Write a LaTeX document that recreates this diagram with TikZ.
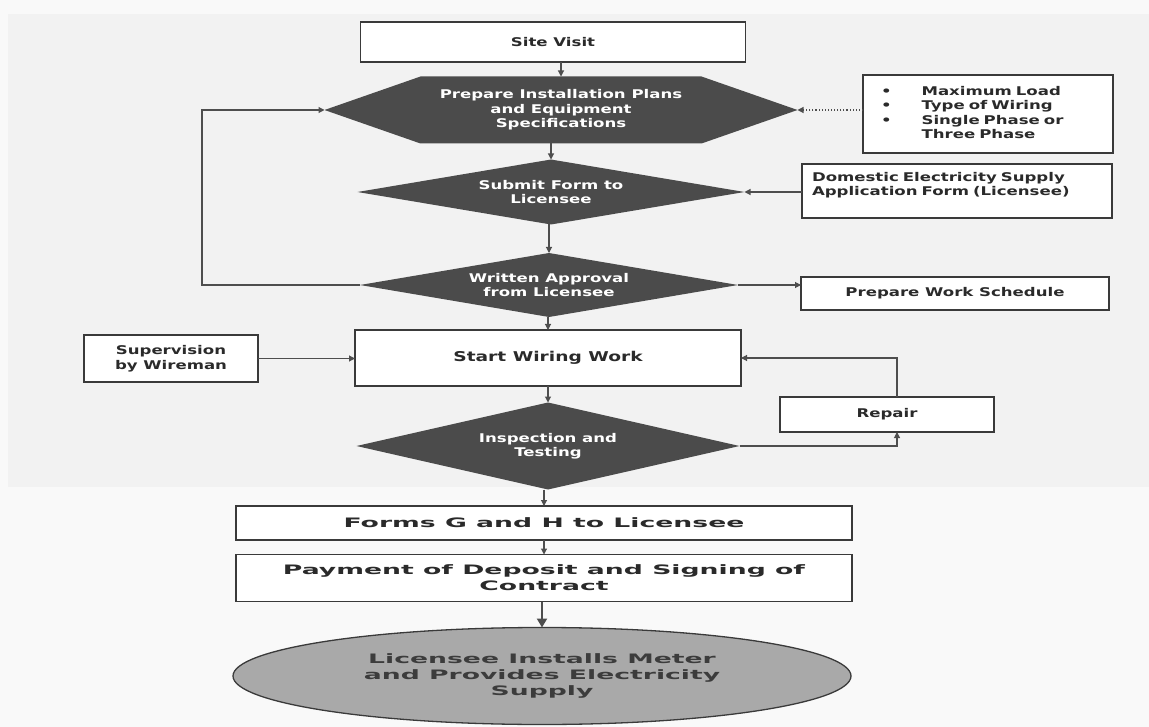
\documentclass[tikz,border=0pt]{standalone}
\usepackage{fontspec}
\setmainfont{DejaVu Sans}
\newfontfamily\mf{DejaVu Sans}[FakeStretch=1.38]
\newfontfamily\wf{DejaVu Sans}[FakeStretch=2.05]
\usetikzlibrary{arrows.meta,backgrounds,shapes.geometric}
\definecolor{darkfill}{HTML}{4B4B4B}
\definecolor{linec}{HTML}{3A3A3A}
\definecolor{arrc}{HTML}{4E4E4E}
\definecolor{txt}{HTML}{2A2A2A}
\definecolor{elltxt}{HTML}{3C3C3C}
\definecolor{ellfill}{HTML}{A9A9A9}
\begin{document}
\begin{tikzpicture}[x=1pt,y=-1pt,
  box/.style={draw=linec, line width=1.3pt, fill=white, inner sep=0pt, outer sep=0pt,
    font={\mf\bfseries\fontsize{12}{14.5}\selectfont}, text=txt, align=center},
  dk/.style={inner sep=0pt, outer sep=0pt,
    font={\mf\bfseries\fontsize{12}{14.5}\selectfont}, text=white, align=center},
  wide/.style={font={\wf\bfseries\fontsize{13}{16}\selectfont}},
  arr/.style={draw=arrc, line width=1.1pt, -{Triangle[length=6pt,width=6pt]}},
]
\useasboundingbox (0,0) rectangle (1149,727);

% main column
\node[box, minimum width=385, minimum height=40] (site) at (553,42) {Site Visit};
\node[dk, minimum width=473, minimum height=67] (prep) at (561,110)
  {Prepare Installation Plans\\and Equipment\\Specifications};
\node[dk, minimum width=387, minimum height=65] (sub) at (551,192) {Submit Form to\\Licensee};
\node[dk, minimum width=378, minimum height=64] (appr) at (549,285) {Written Approval\\from Licensee};
\node[box, minimum width=386, minimum height=56, font={\mf\bfseries\fontsize{13.5}{15}\selectfont}] (wire) at (548,358) {Start Wiring Work};
\node[dk, minimum width=383, minimum height=87] (insp) at (548,446) {Inspection and\\Testing};
\node[box, wide, minimum width=616, minimum height=34] (forms) at (544,523) {Forms G and H to Licensee};
\node[box, wide, minimum width=616, minimum height=47] (pay) at (544,578) {Payment of Deposit and Signing of\\Contract};
\node[ellipse, draw=linec, line width=1.3pt, fill=ellfill, inner sep=0pt, outer sep=0pt, wide, text=elltxt, align=center,
  minimum width=618, minimum height=97] (ell) at (542,676)
  {Licensee Installs Meter\\and Provides Electricity\\Supply};

% side boxes
\node[box, minimum width=250, minimum height=78, text width=230, align=left] (bul) at (988,114)
  {\begin{tabular}{@{\hspace{8pt}}l@{\hspace{30pt}}l@{}}
   {\fontsize{12}{12}\selectfont\textbullet} & Maximum Load\\
   {\fontsize{12}{12}\selectfont\textbullet} & Type of Wiring\\
   {\fontsize{12}{12}\selectfont\textbullet} & Single Phase or\\
   & Three Phase
   \end{tabular}};
\node[box, minimum width=310, minimum height=54, text width=290, align=left] (dom) at (957,191)
  {Domestic Electricity Supply\\Application Form (Licensee)\\\mbox{}};
\node[box, minimum width=308, minimum height=33] (pws) at (955,293.5) {Prepare Work Schedule};
\node[box, minimum width=174, minimum height=47] (sup) at (171,358.5) {Supervision\\by Wireman};
\node[box, minimum width=214, minimum height=35] (rep) at (887,414.5) {Repair};

% background and dark shapes
\begin{scope}[on background layer]
  \fill[gray!5] (0,0) rectangle (1149,727);
  \fill[gray!10] (8,14) rectangle (1149,487);
  \fill[darkfill] (prep.west) -- ([xshift=96pt]prep.north west) -- ([xshift=-96pt]prep.north east)
    -- (prep.east) -- ([xshift=-96pt]prep.south east) -- ([xshift=96pt]prep.south west) -- cycle;
  \fill[darkfill] (sub.west) -- (sub.north) -- (sub.east) -- (sub.south) -- cycle;
  \fill[darkfill] (appr.west) -- (appr.north) -- (appr.east) -- (appr.south) -- cycle;
  \fill[darkfill] (insp.west) -- (insp.north) -- (insp.east) -- (insp.south) -- cycle;
\end{scope}

% connectors
\draw[arr] (site.south -| prep.north) -- (prep.north);
\draw[arr] (prep.south -| sub.north) -- (sub.north);
\draw[arr] (sub.south -| appr.north) -- (appr.north);
\draw[arr] (appr.south -| wire.north) -- (wire.north);
\draw[arr] (wire.south -| insp.north) -- (insp.north);
\draw[arr] (insp.south -| forms.north) -- (forms.north);
\draw[arr] (forms.south) -- (pay.north);
\draw[arr, line width=2.6pt, -{Triangle[length=9pt,width=10pt]}] (pay.south -| ell.north) -- (ell.north);
\draw[arr, dotted] (bul.west |- prep.east) -- (prep.east);
\draw[arr] (dom.west |- sub.east) -- (sub.east);
\draw[arr] (appr.east) -- (appr.east -| pws.west);
\draw[arr] (appr.west) -- ++(-158,0) |- (prep.west);
\draw[arr] (sup.east) -- (sup.east -| wire.west);
\draw[arr] (insp.east) -| ([xshift=10pt]rep.south);
\draw[arr] ([xshift=10pt]rep.north) |- (wire.east);
\end{tikzpicture}
\end{document}
